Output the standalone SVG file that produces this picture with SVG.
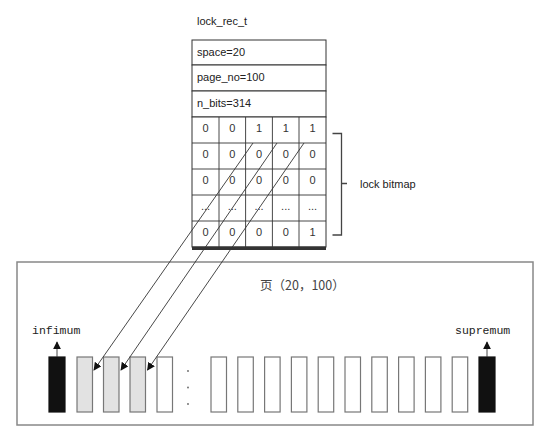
<svg xmlns="http://www.w3.org/2000/svg" width="556" height="432" viewBox="0 0 556 432">
<style>
.t{font-family:"Liberation Sans","Open Sans",sans-serif;font-size:11px;fill:#222}
.d{font-family:"Liberation Sans","Open Sans",sans-serif;font-size:11px;fill:#333;text-anchor:middle}
.m{font-family:"Liberation Mono","DejaVu Sans Mono",monospace;font-size:11.5px;fill:#222}
.cell{fill:#fff;stroke:#333;stroke-width:1}
.rec{fill:#fff;stroke:#777;stroke-width:1.2}
.g{fill:#e2e2e2}
.b{fill:#111;stroke:#111}
.ln{stroke:#333;stroke-width:0.9;fill:none}
</style>
<defs>
<marker id="ah" viewBox="0 0 10 10" refX="9" refY="5" markerWidth="8" markerHeight="8" markerUnits="userSpaceOnUse" orient="auto">
<path d="M0,0 L10,5 L0,10 Z" fill="#111"/>
</marker>
</defs>
<rect width="556" height="432" fill="#fff"/>
<g id="lock_rec_t">
<text class="t" x="197" y="25">lock_rec_t</text>
<rect class="cell" x="192" y="40" width="134" height="25"/>
<rect class="cell" x="192" y="65" width="134" height="26"/>
<rect class="cell" x="192" y="91" width="134" height="26"/>
<text class="t" x="197" y="56">space=20</text>
<text class="t" x="197" y="81">page_no=100</text>
<text class="t" x="197" y="107">n_bits=314</text>
<rect class="cell" x="192" y="117" width="134" height="130"/>
<path class="ln" d="M192,143H326M192,169H326M192,195H326M192,221H326M219,117V247M245.6,117V247M272.4,117V247M299,117V247"/>
<rect x="192" y="246.5" width="134" height="3.5" fill="#333"/>
<g>
<text class="d" x="205.5" y="132">0</text><text class="d" x="232.3" y="132">0</text><text class="d" x="259" y="132">1</text><text class="d" x="285.7" y="132">1</text><text class="d" x="312.5" y="132">1</text>
<text class="d" x="205.5" y="158">0</text><text class="d" x="232.3" y="158">0</text><text class="d" x="259" y="158">0</text><text class="d" x="285.7" y="158">0</text><text class="d" x="312.5" y="158">0</text>
<text class="d" x="205.5" y="184">0</text><text class="d" x="232.3" y="184">0</text><text class="d" x="259" y="184">0</text><text class="d" x="285.7" y="184">0</text><text class="d" x="312.5" y="184">0</text>
<text class="d" x="205.5" y="210" font-size="8">...</text><text class="d" x="232.3" y="210" font-size="8">...</text><text class="d" x="259" y="210" font-size="8">...</text><text class="d" x="285.7" y="210" font-size="8">...</text><text class="d" x="312.5" y="210" font-size="8">...</text>
<text class="d" x="205.5" y="236">0</text><text class="d" x="232.3" y="236">0</text><text class="d" x="259" y="236">0</text><text class="d" x="285.7" y="236">0</text><text class="d" x="312.5" y="236">1</text>
</g>
</g>
<g id="brace">
<path d="M332.5,133.5H341.5V235H332.5M341.5,183.5H347" fill="none" stroke="#444" stroke-width="1.3"/>
<text class="t" x="360" y="188" font-size="12">lock bitmap</text>
</g>
<g id="page">
<rect x="17" y="262" width="516" height="163" fill="#fff" stroke="#888" stroke-width="1.5"/>
<text x="260" y="290" font-family="'Noto Sans CJK SC',sans-serif" font-size="12.5" fill="#444">页（20，100）</text>
<text class="m" x="32" y="334">infimum</text>
<text class="m" x="455" y="334">supremum</text>
<rect class="rec b" x="49" y="357" width="16" height="55"/>
<rect class="rec g" x="77" y="357" width="15.5" height="55"/>
<rect class="rec g" x="103.5" y="357" width="15.5" height="55"/>
<rect class="rec g" x="130" y="357" width="15.5" height="55"/>
<rect class="rec" x="157" y="357" width="15.5" height="55"/>
<circle cx="188" cy="371" r="0.9" fill="#666"/>
<circle cx="188" cy="387.5" r="0.9" fill="#666"/>
<circle cx="188" cy="404" r="0.9" fill="#666"/>
<rect class="rec" x="211" y="357" width="15.5" height="55"/>
<rect class="rec" x="237.8" y="357" width="15.5" height="55"/>
<rect class="rec" x="264.6" y="357" width="15.5" height="55"/>
<rect class="rec" x="291.4" y="357" width="15.5" height="55"/>
<rect class="rec" x="318.2" y="357" width="15.5" height="55"/>
<rect class="rec" x="345" y="357" width="15.5" height="55"/>
<rect class="rec" x="371.8" y="357" width="15.5" height="55"/>
<rect class="rec" x="398.6" y="357" width="15.5" height="55"/>
<rect class="rec" x="425.4" y="357" width="15.5" height="55"/>
<rect class="rec" x="452.2" y="357" width="15.5" height="55"/>
<rect class="rec b" x="479" y="357" width="16" height="55"/>
</g>
<g id="connectors">
<line class="ln" x1="57" y1="357" x2="57" y2="342" marker-end="url(#ah)"/>
<line class="ln" x1="487" y1="357" x2="487" y2="342" marker-end="url(#ah)"/>
<line class="ln" x1="253" y1="143" x2="94" y2="370" marker-end="url(#ah)"/>
<line class="ln" x1="277" y1="143" x2="121" y2="370" marker-end="url(#ah)"/>
<line class="ln" x1="304" y1="143" x2="147.5" y2="370" marker-end="url(#ah)"/>
</g>
</svg>
